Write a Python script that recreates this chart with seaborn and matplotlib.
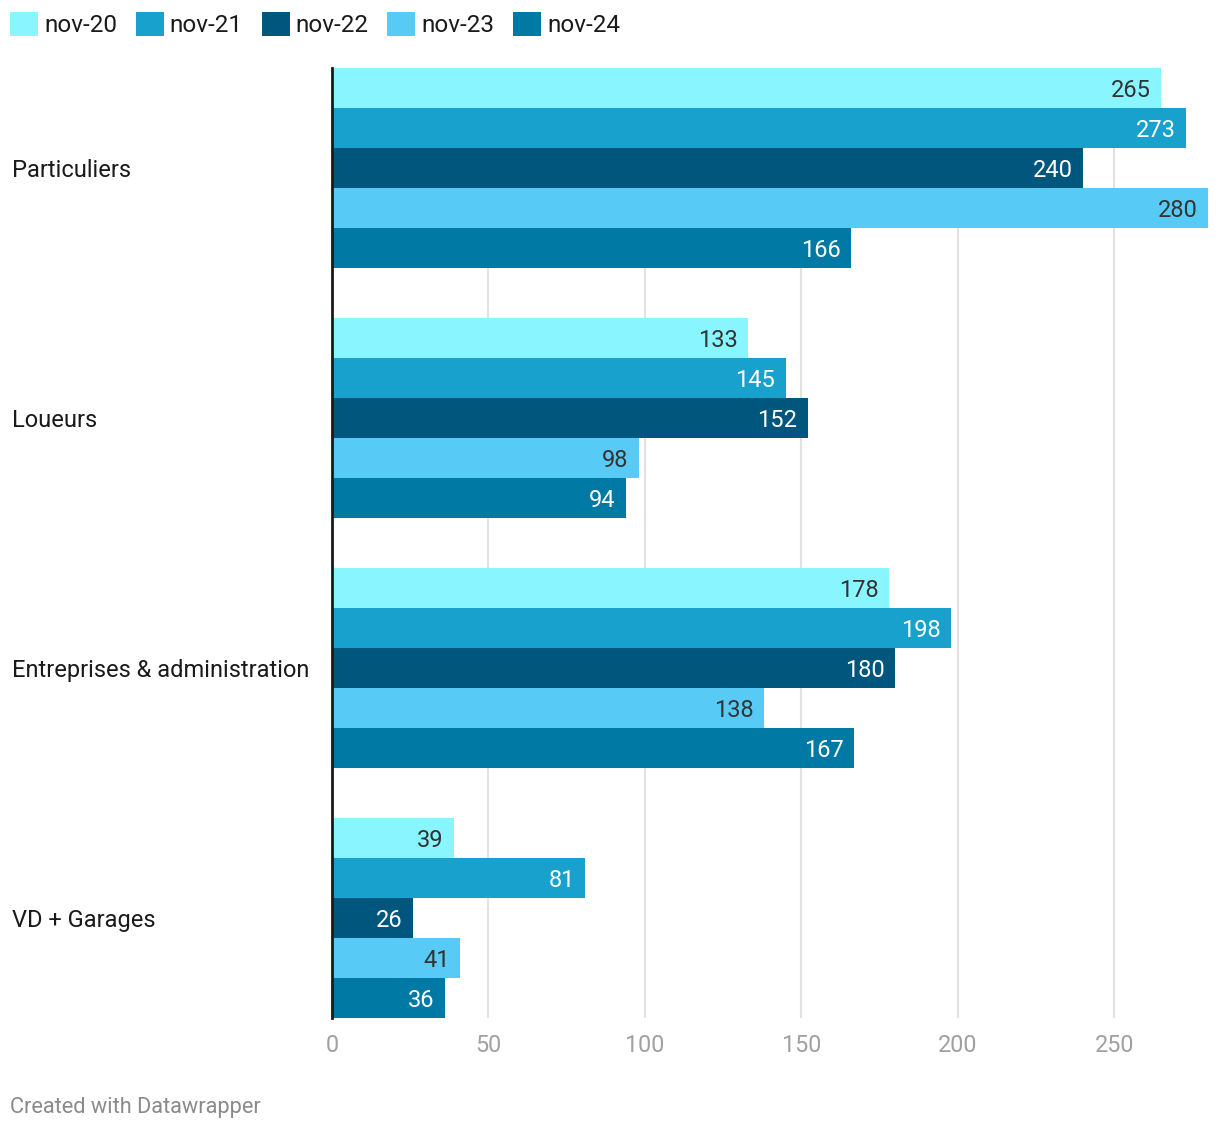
import pandas as pd
import numpy as np
import matplotlib.pyplot as plt
import matplotlib.transforms as mtransforms
import seaborn as sns
from matplotlib.patches import Patch

categories = ["Particuliers", "Loueurs", "Entreprises & administration", "VD + Garages"]
years = ["nov-20", "nov-21", "nov-22", "nov-23", "nov-24"]
nov20 = [265, 133, 178, 39]
nov21 = [273, 145, 198, 81]
nov22 = [240, 152, 180, 26]
nov23 = [280, 98, 138, 41]
nov24 = [166, 94, 167, 36]
colors = ["#88f5ff", "#19a1cd", "#00567d", "#57caf6", "#0079a5"]
label_colors = ["#333333", "white", "white", "#333333", "white"]

df = pd.DataFrame({
    "cat": categories * 5,
    "year": np.repeat(years, len(categories)),
    "value": nov20 + nov21 + nov22 + nov23 + nov24,
})

sns.set_style("white")
plt.rcParams["font.family"] = ["Roboto", "DejaVu Sans"]

fig = plt.figure(figsize=(12.2, 11.32), dpi=100)
ax = fig.add_axes([332 / 1220, 1 - 1018 / 1132, (1208 - 332) / 1220, (1018 - 68) / 1132])

sns.barplot(data=df, y="cat", x="value", hue="year", orient="h",
            palette=dict(zip(years, colors)), width=0.8, ax=ax,
            saturation=1, legend=False, linewidth=0)

ax.set_xlim(0, 280)
ax.set_ylim(3.4, -0.4)
ax.set_xticks([0, 50, 100, 150, 200, 250])
ax.tick_params(axis="x", length=0, labelsize=16.8, labelcolor="#a0a0a0", pad=11.5)
ax.tick_params(axis="y", length=0)
ax.set_yticks([])
ax.set_xlabel("")
ax.set_ylabel("")
ax.grid(axis="x", color="#e2e2e2", linewidth=1.5)
ax.set_axisbelow(True)
for s in ["top", "right", "bottom"]:
    ax.spines[s].set_visible(False)
ax.spines["left"].set_color("#1a1a1a")
ax.spines["left"].set_linewidth(2)
ax.spines["left"].set_zorder(5)

# value labels inside the bar ends
for cont, lc in zip(ax.containers, label_colors):
    for bar in cont:
        w = bar.get_width()
        y = bar.get_y() + bar.get_height() / 2
        ax.annotate(f"{w:.0f}", (w, y), xytext=(-7.5, -1.5), textcoords="offset points",
                    ha="right", va="center", color=lc, fontsize=17)

# category labels on the far left
trans = mtransforms.blended_transform_factory(fig.transFigure, ax.transData)
trans = trans + mtransforms.ScaledTranslation(0, -1.5 / 72, fig.dpi_scale_trans)
for i, c in enumerate(categories):
    ax.text(12 / 1220, i, c, transform=trans, fontsize=17, color="#1a1a1a",
            va="center", ha="left", clip_on=False)

handles = [Patch(facecolor=c, edgecolor="none") for c in colors]
fig.legend(handles, years, loc="upper left", bbox_to_anchor=(10 / 1220, 1 - 12 / 1132),
           ncol=5, frameon=False, fontsize=17.5, handlelength=1.15, handleheight=1.15,
           handletextpad=0.25, columnspacing=0.77, borderaxespad=0, borderpad=0,
           labelcolor="#1a1a1a")

fig.text(10 / 1220, 1 - 1107 / 1132, "Created with Datawrapper", fontsize=15.7,
         color="#8a8a8a", va="center", ha="left")

fig.savefig("out.png", dpi=100)
